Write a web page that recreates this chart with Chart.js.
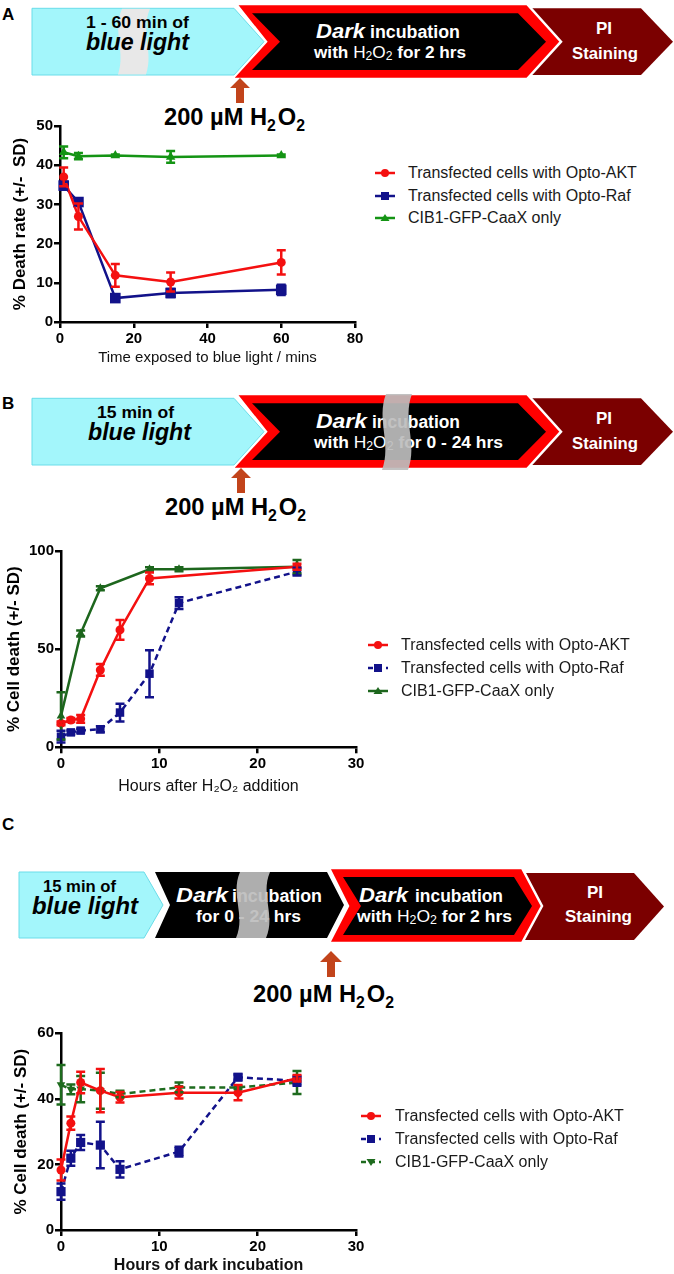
<!DOCTYPE html>
<html>
<head>
<meta charset="utf-8">
<script src="https://cdn.jsdelivr.net/npm/chart.js@4.4.1/dist/chart.umd.min.js"></script>
<style>
  html, body { margin: 0; padding: 0; background: #fff; }
  #page { position: relative; width: 674px; height: 1274px; overflow: hidden; font-family: "Liberation Sans", Arial, sans-serif; }
  #page canvas { position: absolute; left: 0; }
  #scheme { position: absolute; left: 0; top: 0; }
  .t { font-family: "Liberation Sans", Arial, sans-serif; font-weight: bold; }
  .i { font-style: italic; }
  .w { fill: #fff; }
  .leg { position: absolute; font-size: 16px; line-height: 20px; height: 20px; color: #1a1a1a; white-space: nowrap; }
  .leg svg { position: absolute; left: 0; top: 3px; }
</style>
</head>
<body>
<div id="page">
<svg id="scheme" width="674" height="1274" viewBox="0 0 674 1274">
  <!-- A -->
  <text class="t" x="2" y="20" font-size="17">A</text>
  <polygon points="515,8.3 641,8.3 673,41.7 641,75 515,75" fill="#7b0000"/>
  <polygon points="236,4 527,4 561,41.7 527,79 232,79 266,41.7" fill="#ff0000" stroke="#fff" stroke-width="2.5"/>
  <polygon points="252,13.3 518,13.3 546,41.7 518,70 252,70 280,41.7" fill="#000"/>
  <polygon points="32,8.3 234,8.3 264,41.7 234,75 32,75" fill="#a3f6fb" stroke="#6adde9" stroke-width="1"/>
  <path d="M122,8.8 C112,32 126,52 118,74.5 L146,74.5 C154,52 140,32 150,8.8 Z" fill="#e8e8e8"/>
  <text class="t" x="86" y="28.3" font-size="17" textLength="103" lengthAdjust="spacingAndGlyphs">1 - 60 min of</text>
  <text class="t i" x="86" y="50" font-size="23" textLength="103" lengthAdjust="spacingAndGlyphs">blue light</text>
  <text class="t i w" x="316" y="38" font-size="21" textLength="49" lengthAdjust="spacingAndGlyphs">Dark</text>
  <text class="t w" x="370" y="38" font-size="18" textLength="90" lengthAdjust="spacingAndGlyphs">incubation</text>
  <text class="t w" x="314" y="58" font-size="17" textLength="152" lengthAdjust="spacingAndGlyphs">with <tspan font-weight="normal">H<tspan font-size="12" dy="2">2</tspan><tspan dy="-2">O</tspan><tspan font-size="12" dy="2">2</tspan></tspan><tspan dy="-2"> for 2 hrs</tspan></text>
  <text class="t w" x="604" y="34" font-size="17" text-anchor="middle">PI</text>
  <text class="t w" x="572" y="58.5" font-size="17" textLength="66" lengthAdjust="spacingAndGlyphs">Staining</text>
  <polygon points="240,78 250,88 244,88 244,103 236,103 236,88 230,88" fill="#c2441b"/>
  <text class="t" x="164" y="125" font-size="24" textLength="141" lengthAdjust="spacingAndGlyphs">200 µM H<tspan font-size="16" dy="6">2</tspan><tspan dy="-6" dx="2">O</tspan><tspan font-size="16" dy="6">2</tspan></text>

  <!-- B -->
  <text class="t" x="2" y="409" font-size="17">B</text>
  <g transform="translate(0,390)">
    <polygon points="515,8.3 641,8.3 673,41.7 641,75 515,75" fill="#7b0000"/>
    <polygon points="236,4 527,4 561,41.7 527,79 232,79 266,41.7" fill="#ff0000" stroke="#fff" stroke-width="2.5"/>
    <polygon points="252,13.3 518,13.3 546,41.7 518,70 252,70 280,41.7" fill="#000"/>
    <polygon points="32,8.3 234,8.3 264,41.7 234,75 32,75" fill="#a3f6fb" stroke="#6adde9" stroke-width="1"/>
    <text class="t" x="97" y="28.3" font-size="17" textLength="77" lengthAdjust="spacingAndGlyphs">15 min of</text>
    <text class="t i" x="88" y="50" font-size="23" textLength="103" lengthAdjust="spacingAndGlyphs">blue light</text>
    <text class="t i w" x="316" y="38" font-size="21" textLength="51" lengthAdjust="spacingAndGlyphs">Dark</text>
    <text class="t w" x="372" y="38" font-size="18" textLength="88" lengthAdjust="spacingAndGlyphs">incubation</text>
    <text class="t w" x="314" y="58" font-size="17" textLength="189" lengthAdjust="spacingAndGlyphs">with <tspan font-weight="normal">H<tspan font-size="12" dy="2">2</tspan><tspan dy="-2">O</tspan><tspan font-size="12" dy="2">2</tspan></tspan><tspan dy="-2"> for 0 - 24 hrs</tspan></text>
    <path d="M386,4 C376,30 392,54 382,80 L408,80 C418,54 402,30 412,4 Z" fill="#bdbdbd" opacity="0.92"/>
    <text class="t w" x="604" y="34" font-size="17" text-anchor="middle">PI</text>
    <text class="t w" x="572" y="58.5" font-size="17" textLength="66" lengthAdjust="spacingAndGlyphs">Staining</text>
  </g>
  <polygon points="241,468 251,478 245,478 245,493 237,493 237,478 231,478" fill="#c2441b"/>
  <text class="t" x="165" y="515" font-size="24" textLength="141" lengthAdjust="spacingAndGlyphs">200 µM H<tspan font-size="16" dy="6">2</tspan><tspan dy="-6" dx="2">O</tspan><tspan font-size="16" dy="6">2</tspan></text>

  <!-- C -->
  <text class="t" x="2" y="830" font-size="17">C</text>
  <polygon points="515,873 634,873 664,906.5 634,940 515,940" fill="#7b0000"/>
  <polygon points="329,868 522,868 542,906 522,943 329,943 348,906" fill="#ff0000" stroke="#fff" stroke-width="2.5"/>
  <polygon points="343,877 514,877 532,906 514,935 343,935 361,906" fill="#000"/>
  <polygon points="155,872 327,872 344,905 327,938 155,938 170,905" fill="#000"/>
  <polygon points="19,872 144,872 163,905 144,938 19,938" fill="#a3f6fb" stroke="#6adde9" stroke-width="1"/>
  <text class="t" x="43" y="892" font-size="17" textLength="73" lengthAdjust="spacingAndGlyphs">15 min of</text>
  <text class="t i" x="32" y="914" font-size="23" textLength="106" lengthAdjust="spacingAndGlyphs">blue light</text>
  <text class="t i w" x="176" y="901.7" font-size="21" textLength="52" lengthAdjust="spacingAndGlyphs">Dark</text>
  <text class="t w" x="232" y="901.7" font-size="18" textLength="90" lengthAdjust="spacingAndGlyphs">incubation</text>
  <text class="t w" x="196" y="921.7" font-size="17" textLength="105" lengthAdjust="spacingAndGlyphs">for 0 - 24 hrs</text>
  <path d="M240,872 C230,895 246,915 236,938 L266,938 C276,915 260,895 270,872 Z" fill="#bdbdbd" opacity="0.92"/>
  <text class="t i w" x="359" y="901.7" font-size="21" textLength="49" lengthAdjust="spacingAndGlyphs">Dark</text>
  <text class="t w" x="415" y="901.7" font-size="18" textLength="88" lengthAdjust="spacingAndGlyphs">incubation</text>
  <text class="t w" x="357" y="921.7" font-size="17" textLength="155" lengthAdjust="spacingAndGlyphs">with <tspan font-weight="normal">H<tspan font-size="12" dy="2">2</tspan><tspan dy="-2">O</tspan><tspan font-size="12" dy="2">2</tspan></tspan><tspan dy="-2"> for 2 hrs</tspan></text>
  <text class="t w" x="595" y="897.7" font-size="17" text-anchor="middle">PI</text>
  <text class="t w" x="565" y="922" font-size="17" textLength="67" lengthAdjust="spacingAndGlyphs">Staining</text>
  <polygon points="331,951 342,962 335,962 335,977 327,977 327,962 320,962" fill="#c2441b"/>
  <text class="t" x="253" y="1002" font-size="24" textLength="141" lengthAdjust="spacingAndGlyphs">200 µM H<tspan font-size="16" dy="6">2</tspan><tspan dy="-6" dx="2">O</tspan><tspan font-size="16" dy="6">2</tspan></text>
</svg>
<canvas id="chartA" width="375" height="260" style="top:115px"></canvas>
<canvas id="chartB" width="375" height="265" style="top:540px"></canvas>
<canvas id="chartC" width="375" height="270" style="top:1022px"></canvas>
</div>

<script>
// series names
var nameAkt = 'Transfected cells with Opto-AKT';
var nameRaf = 'Transfected cells with Opto-Raf';
var nameCib = 'CIB1-GFP-CaaX only';

// panel A : minutes of blue light
var timeA = [1, 5, 15, 30, 60];
var aktA = [37.0, 26.9, 11.9, 10.2, 15.2];
var aktSdA = [2.4, 3.3, 2.9, 2.4, 3.1];
var rafA = [34.8, 30.6, 6.1, 7.4, 8.2];
var rafSdA = [1.0, 0.8, 0.8, 1.0, 1.3];
var cibA = [43.3, 42.3, 42.5, 42.1, 42.5];
var cibSdA = [1.5, 0.8, 0.2, 1.5, 0.2];
var xTicksA = [0, 20, 40, 60, 80];
var yTicksA = [0, 10, 20, 30, 40, 50];

// panel B : hours after H2O2
var aktTimeB = [0, 1, 2, 4, 6, 9, 24];
var aktB = [12.2, 13.9, 14.5, 39.4, 59.8, 86.0, 92.0];
var aktSdB = [1.0, 1.0, 2.0, 3.0, 5.0, 3.0, 1.5];
var rafTimeB = [0, 1, 2, 4, 6, 9, 12, 24];
var rafB = [5.4, 7.6, 8.5, 9.2, 17.7, 37.5, 73.5, 89.5];
var rafSdB = [3.0, 1.0, 1.0, 1.5, 4.5, 12.0, 3.0, 2.0];
var cibTimeB = [0, 2, 4, 9, 12, 24];
var cibB = [16.0, 58.0, 81.0, 90.7, 90.7, 92.0];
var cibSdB = [12.0, 1.5, 1.0, 1.0, 1.0, 3.4];
var xTicksB = [0, 10, 20, 30];
var yTicksB = [0, 50, 100];

// panel C : hours of dark incubation
var timeC = [0, 1, 2, 4, 6, 12, 18, 24];
var aktC = [18.3, 32.6, 45.0, 42.5, 40.5, 41.9, 41.9, 46.3];
var aktSdC = [3.2, 2.0, 3.3, 6.6, 1.6, 1.8, 2.3, 1.0];
var rafC = [11.7, 21.9, 26.7, 25.9, 18.5, 23.9, 46.6, 45.5];
var rafSdC = [2.5, 2.3, 2.3, 7.1, 2.5, 1.5, 0.8, 1.5];
var cibC = [44.3, 42.9, 43.0, 42.5, 41.5, 43.5, 43.5, 45.0];
var cibSdC = [6.0, 1.5, 4.0, 5.5, 1.0, 1.5, 0.5, 3.5];
var xTicksC = [0, 10, 20, 30];
var yTicksC = [0, 20, 40, 60];

var RED = '#f41010';
var NAVY = '#12128a';
var FONT = "'Liberation Sans', Arial, sans-serif";
var tickFont = { family: FONT, size: 15, weight: 'bold' };

function pts(xs, ys){
	return xs.map(function(x, i){ return { x: x, y: ys[i] }; });
}

function series(label, xs, ys, sd, color, style, radius, dashed, rot){
	return {
		label: label,
		data: pts(xs, ys),
		sd: sd,
		borderColor: color,
		backgroundColor: color,
		borderWidth: 2.5,
		borderDash: dashed ? [6, 4] : [],
		pointStyle: style,
		pointRotation: rot || 0,
		pointRadius: radius,
		pointBorderWidth: 0,
		tension: 0,
		clip: false
	};
}

// SD whiskers, drawn with the chart's y scale
var errorBars = {
	id: 'errorBars',
	afterDatasetsDraw: function(chart){
		var ctx = chart.ctx;
		var ys = chart.scales.y;
		for(var i = chart.data.datasets.length - 1; i >= 0; i--){
			var d = chart.data.datasets[i];
			var meta = chart.getDatasetMeta(i);
			ctx.save();
			ctx.setLineDash([]);
			ctx.strokeStyle = d.borderColor;
			ctx.lineWidth = 2.5;
			meta.data.forEach(function(p, j){
				var e = d.sd[j];
				if(!e) return;
				var v = d.data[j].y;
				var t = ys.getPixelForValue(v + e);
				var b = ys.getPixelForValue(v - e);
				ctx.beginPath();
				ctx.moveTo(p.x, t); ctx.lineTo(p.x, b);
				ctx.moveTo(p.x - 4.5, t); ctx.lineTo(p.x + 4.5, t);
				ctx.moveTo(p.x - 4.5, b); ctx.lineTo(p.x + 4.5, b);
				ctx.stroke();
			});
			ctx.restore();
		}
	}
};

function buildChart(id, sets, xTicks, yTicks, o){
	return new Chart(document.getElementById(id), {
		type: 'line',
		data: { datasets: sets },
		options: {
			responsive: false,
			animation: false,
			devicePixelRatio: 1,
			layout: { padding: { top: o.top, right: o.right, left: 0, bottom: 0 } },
			plugins: { legend: { display: false }, tooltip: { enabled: false } },
			scales: {
				x: {
					type: 'linear',
					min: xTicks[0],
					max: xTicks[xTicks.length - 1],
					afterBuildTicks: function(s){ s.ticks = xTicks.map(function(v){ return { value: v }; }); },
					afterFit: function(s){ s.height = o.xh; },
					grid: { drawOnChartArea: false, color: '#000', lineWidth: 2.5, tickLength: 6 },
					border: { color: '#000', width: 2.5 },
					ticks: { color: '#000', font: tickFont, padding: 2, maxRotation: 0, autoSkip: false },
					title: { display: true, text: o.xTitle, color: '#111', font: o.xFont, padding: { top: 0, bottom: o.xPad } }
				},
				y: {
					type: 'linear',
					min: yTicks[0],
					max: yTicks[yTicks.length - 1],
					afterBuildTicks: function(s){ s.ticks = yTicks.map(function(v){ return { value: v }; }); },
					afterFit: function(s){ s.width = o.yw; },
					grid: { drawOnChartArea: false, color: '#000', lineWidth: 2.5, tickLength: 6 },
					border: { color: '#000', width: 2.5 },
					ticks: { color: '#000', font: tickFont, padding: 1, autoSkip: false },
					title: { display: true, text: o.yTitle, color: '#000', font: { family: FONT, size: 17, weight: 'bold' }, padding: { top: o.yPad, bottom: 0 } }
				}
			}
		},
		plugins: [errorBars]
	});
}

function legend(chart, sx, tx, rows){
	var page = document.getElementById('page');
	chart.data.datasets.forEach(function(d, i){
		var c = d.borderColor;
		var dash = d.borderDash.length ? ' stroke-dasharray="5,4"' : '';
		var m;
		if(d.pointStyle === 'circle'){
			m = '<circle cx="10" cy="7" r="4" fill="' + c + '"/>';
		}else if(d.pointStyle === 'rect'){
			m = '<rect x="6" y="3" width="8" height="8" fill="' + c + '"/>';
		}else if(d.pointRotation === 180){
			m = '<polygon points="5.5,4 14.5,4 10,11" fill="' + c + '"/>';
		}else{
			m = '<polygon points="10,3 14.5,10 5.5,10" fill="' + c + '"/>';
		}
		var row = document.createElement('div');
		row.className = 'leg';
		row.style.left = sx + 'px';
		row.style.top = (rows[i] - 10) + 'px';
		row.innerHTML = '<svg width="22" height="14"><line x1="0" y1="7" x2="20" y2="7" stroke="' + c + '" stroke-width="2.5"' + dash + '/>' + m + '</svg>' +
			'<span style="position:absolute;left:' + (tx - sx) + 'px;top:0">' + d.label + '</span>';
		page.appendChild(row);
	});
}

var chartA = buildChart('chartA', [
	series(nameAkt, timeA, aktA, aktSdA, RED, 'circle', 4.5),
	series(nameRaf, timeA, rafA, rafSdA, NAVY, 'rect', 7.5),
	series(nameCib, timeA, cibA, cibSdA, '#149414', 'triangle', 5.5)
], xTicksA, yTicksA, {
	top: 11, right: 20, xh: 53, yw: 60, yPad: 10.5,
	xTitle: 'Time exposed to blue light / mins', xFont: { family: FONT, size: 15 }, xPad: 8,
	yTitle: '% Death rate (+/-  SD)'
});

var chartB = buildChart('chartB', [
	series(nameAkt, aktTimeB, aktB, aktSdB, RED, 'circle', 4.5),
	series(nameRaf, rafTimeB, rafB, rafSdB, NAVY, 'rect', 6, true),
	series(nameCib, cibTimeB, cibB, cibSdB, '#1d661d', 'triangle', 5)
], xTicksB, yTicksB, {
	top: 11, right: 19, xh: 57.7, yw: 61, yPad: 4.5,
	xTitle: 'Hours after H\u2082O\u2082 addition', xFont: { family: FONT, size: 16 }, xPad: 8.4,
	yTitle: '% Cell death (+/- SD)'
});

var chartC = buildChart('chartC', [
	series(nameAkt, timeC, aktC, aktSdC, RED, 'circle', 4.5),
	series(nameRaf, timeC, rafC, rafSdC, NAVY, 'rect', 6.5, true),
	series(nameCib, timeC, cibC, cibSdC, '#1e6b1e', 'triangle', 5, true, 180)
], xTicksC, yTicksC, {
	top: 11.3, right: 19, xh: 62, yw: 61, yPad: 10.8,
	xTitle: 'Hours of dark incubation', xFont: { family: FONT, size: 16, weight: 'bold' }, xPad: 16.4,
	yTitle: '% Cell death (+/- SD)'
});

legend(chartA, 375, 408, [173, 196, 218]);
legend(chartB, 368, 401, [645, 668, 691]);
legend(chartC, 361, 395, [1116, 1139, 1162]);
</script>
</body>
</html>
